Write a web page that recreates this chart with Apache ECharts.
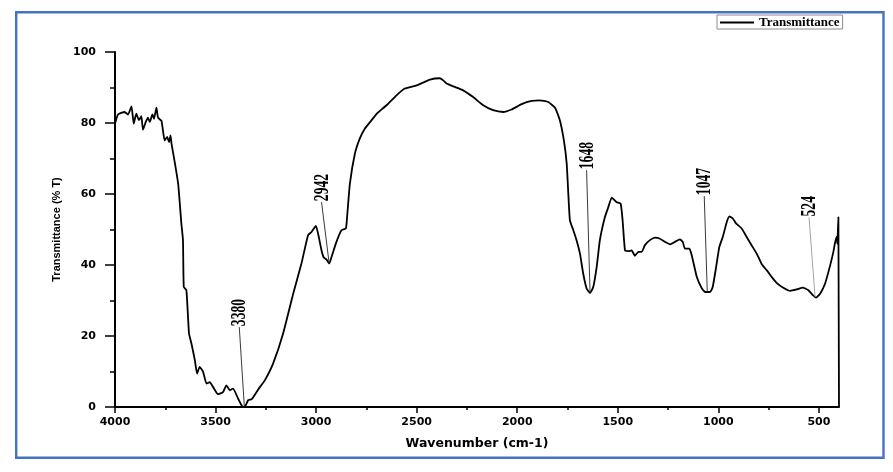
<!DOCTYPE html>
<html>
<head>
<meta charset="utf-8">
<script src="https://cdn.jsdelivr.net/npm/echarts@6/dist/echarts.min.js"></script>
<style>
  html, body { margin: 0; padding: 0; background: #fff; }
  #main { width: 893px; height: 472px; }
</style>
</head>
<body>
<div id="main"></div>
<script>
// spectrum (cm-1, %T)
var wavenumber = [
  4000, 3985, 3952, 3935, 3918, 3907, 3894, 3881, 3869, 3861, 3847, 3836, 3827, 3814, 3806, 3794,
  3786, 3769, 3753, 3741, 3731, 3724, 3719, 3703, 3686, 3670, 3662, 3658, 3645, 3632, 3620, 3603,
  3592, 3579, 3562, 3545, 3529, 3512, 3488, 3463, 3446, 3429, 3413, 3388, 3371, 3363, 3350, 3338,
  3320, 3296, 3280, 3255, 3214, 3164, 3114, 3073, 3040, 3023, 3001, 2990, 2973, 2962, 2948, 2935,
  2923, 2899, 2874, 2852, 2846, 2832, 2807, 2783, 2758, 2724, 2699, 2650, 2600, 2559, 2500, 2434,
  2385, 2368, 2351, 2318, 2269, 2219, 2169, 2120, 2070, 2028, 1978, 1928, 1887, 1846, 1812, 1788,
  1768, 1754, 1746, 1738, 1721, 1705, 1688, 1672, 1655, 1638, 1622, 1605, 1589, 1564, 1547, 1530,
  1506, 1486, 1476, 1464, 1448, 1431, 1415, 1398, 1381, 1365, 1340, 1315, 1290, 1265, 1240, 1216,
  1191, 1177, 1166, 1144, 1132, 1107, 1082, 1066, 1041, 1028, 1011, 995, 978, 958, 945, 928,
  912, 884, 859, 834, 809, 784, 759, 734, 709, 677, 643, 610, 580, 552, 530, 514,
  494, 469, 444, 428, 419, 411, 408, 403, 401, 400
]
var transmittance = [
  79.8, 82.4, 83.1, 82.4, 84.7, 79.8, 82.6, 80.8, 81.9, 78.1, 80.3, 81.5, 80.3, 82.4, 81.2, 84.3,
  81.5, 80.6, 75.1, 76.1, 74.6, 76.5, 74.2, 69.0, 62.9, 51.7, 47.0, 33.8, 32.9, 20.7, 17.9, 13.2,
  9.4, 11.3, 9.9, 6.6, 7.0, 5.6, 3.6, 4.2, 6.1, 4.7, 5.2, 2.4, 0.5, 0.0, 0.5, 1.9,
  2.2, 4.2, 5.6, 7.5, 12.2, 20.7, 31.9, 40.4, 48.4, 49.3, 51.0, 48.8, 44.1, 42.1, 41.5, 40.4,
  42.3, 46.5, 49.8, 50.3, 53.5, 62.9, 71.4, 75.6, 78.4, 80.8, 82.6, 85.0, 87.8, 89.7, 90.6, 92.2,
  92.6, 92.0, 91.1, 90.3, 89.2, 87.3, 85.0, 83.6, 83.1, 83.8, 85.3, 86.2, 86.4, 85.9, 84.3, 80.8,
  75.1, 68.6, 60.1, 52.6, 49.8, 47.0, 43.2, 37.6, 33.4, 32.1, 33.8, 39.4, 47.0, 53.5, 56.3, 59.0,
  57.7, 57.3, 52.6, 44.1, 43.9, 44.1, 42.6, 43.7, 43.7, 45.6, 47.0, 47.7, 47.4, 46.5, 45.8, 46.5,
  47.2, 46.5, 44.6, 44.6, 42.7, 36.6, 33.4, 32.4, 32.4, 33.8, 39.4, 45.1, 47.9, 52.1, 53.7, 53.1,
  51.7, 50.3, 47.9, 45.5, 43.2, 40.2, 38.5, 36.6, 34.9, 33.6, 32.7, 33.1, 33.6, 32.9, 31.5, 30.8,
  31.9, 34.8, 39.9, 43.7, 46.5, 47.9, 46.0, 53.5, 53.5, 0.0
]

var xMajorTicks = [500, 1000, 1500, 2000, 2500, 3000, 3500, 4000]
var xMinorTicks = [750, 1250, 1750, 2250, 2750, 3250, 3750]

// peak annotations: label text, where the leader line starts, where it touches the curve
var peakNames = ['3380', '2942', '1648', '1047', '524']
var peakLabelAt = [[3382, 22.5], [2973, 57.7], [1655, 66.7], [1070, 59.4], [549, 53.4]]
var peakTips = [[3357, 0.2], [2935, 40.4], [1638, 32.4], [1055, 32.4], [519, 31.0]]
var peakLineColors = ['#222', '#222', '#222', '#222', '#9a9a9a']

var points = wavenumber.map(function (w, i) { return [w, transmittance[i]] })

var leaders = peakNames.map(function (n, i) {
  return [
    { coord: peakLabelAt[i], lineStyle: { color: peakLineColors[i], width: 0.9, type: 'solid' } },
    { coord: peakTips[i] }
  ]
})

var sansBold = { fontFamily: 'DejaVu Sans', fontWeight: 'bold', fontSize: 11, color: '#000' }

var myChart = echarts.init(document.getElementById('main'))
var option = {
  animation: false,
  backgroundColor: '#fff',
  grid: { left: 115, right: 54, top: 52, bottom: 65 },
  legend: {
    data: [{ name: 'Transmittance', icon: 'rect' }],
    left: 717,
    top: 15,
    padding: [1, 3, 0, 3],
    itemWidth: 34,
    itemHeight: 2,
    itemGap: 4,
    itemStyle: { color: '#000' },
    borderColor: '#8c8c8c',
    borderWidth: 1,
    textStyle: { fontFamily: 'Liberation Serif', fontWeight: 'bold', fontSize: 13, color: '#000', lineHeight: 13 }
  },
  xAxis: [
    {
      type: 'value',
      inverse: true,
      min: 400,
      max: 4000,
      name: 'Wavenumber (cm-1)',
      nameLocation: 'middle',
      nameGap: 30,
      nameTextStyle: { fontFamily: 'DejaVu Sans', fontWeight: 'bold', fontSize: 12.5, color: '#000' },
      axisLine: { lineStyle: { color: '#000', width: 2 } },
      axisTick: { customValues: xMajorTicks, length: 6, lineStyle: { color: '#000', width: 1.5 } },
      axisLabel: Object.assign({
        customValues: xMajorTicks,
        margin: 10,
        formatter: function (v) { return String(v) }
      }, sansBold),
      splitLine: { show: false }
    },
    {
      type: 'value',
      inverse: true,
      min: 400,
      max: 4000,
      position: 'bottom',
      axisLine: { show: false },
      axisTick: { customValues: xMinorTicks, length: 3, lineStyle: { color: '#000', width: 1.5 } },
      axisLabel: { show: false },
      splitLine: { show: false }
    }
  ],
  yAxis: {
    type: 'value',
    min: 0,
    max: 100,
    interval: 20,
    name: 'Transmittance (% T)',
    nameLocation: 'middle',
    nameGap: 52,
    nameTextStyle: { fontFamily: "'Liberation Sans Narrow', 'Liberation Sans'", fontWeight: 'bold', fontSize: 11, color: '#000' },
    axisLine: { show: true, lineStyle: { color: '#000', width: 2 } },
    axisTick: { show: true, length: 10, lineStyle: { color: '#000', width: 1.5 } },
    minorTick: { show: true, splitNumber: 2, length: 5, lineStyle: { color: '#000', width: 1.5 } },
    axisLabel: Object.assign({ margin: 19 }, sansBold),
    splitLine: { show: false }
  },
  series: [
    {
      name: 'Transmittance',
      type: 'line',
      xAxisIndex: 0,
      data: points,
      symbol: 'none',
      smooth: 0.15,
      lineStyle: { color: '#000', width: 1.8 },
      itemStyle: { color: '#000' },
      markLine: {
        silent: true,
        symbol: ['none', 'none'],
        label: { show: false },
        data: leaders
      }
    }
  ]
}
myChart.setOption(option)

// rotated, narrowed serif labels at the top of each leader line
var texts = peakNames.map(function (n, i) {
  var p = myChart.convertToPixel({ seriesIndex: 0 }, peakLabelAt[i])
  return {
    type: 'text',
    x: p[0] + 1,
    y: p[1] - 1,
    rotation: Math.PI / 2,
    scaleX: 0.68,
    silent: true,
    style: {
      text: n,
      font: 'bold 20px "Liberation Serif"',
      fill: '#000',
      align: 'left',
      verticalAlign: 'middle'
    }
  }
})

myChart.setOption({
  graphic: [
    {
      type: 'rect',
      silent: true,
      shape: { x: 16.2, y: 12.2, width: 867.3, height: 445.6 },
      style: { fill: 'none', stroke: '#4472C4', lineWidth: 2.4 }
    }
  ].concat(texts)
})
</script>
</body>
</html>
